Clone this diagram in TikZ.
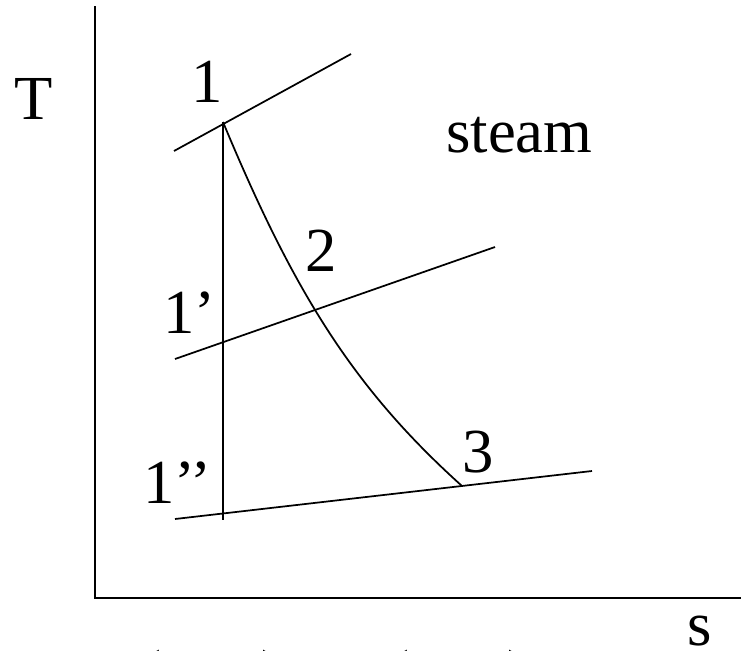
\documentclass[tikz,border=0pt]{standalone}
\usepackage{fontspec}
\setmainfont{Liberation Serif}
\usetikzlibrary{positioning}

\begin{document}
\begin{tikzpicture}[x=0.75pt, y=-0.75pt,
        axis/.style={line width=1.6pt},
        curve/.style={line width=1.3pt},
        lbl/.style={inner sep=0pt, font=\fontsize{47}{56}\selectfont}]
        \useasboundingbox (0,0) rectangle (741,650);
        \clip (0,0) rectangle (741,650);
        \coordinate (top) at (95,6);
        \coordinate (orig) at (95,598);
        \coordinate (right) at (741,598);
        \coordinate (pa) at (223,122);
        \coordinate (pb) at (314,308);
        \coordinate (pc) at (462,486);
        \coordinate (pd) at (223,341);
        \coordinate (pe) at (223,520);
        \coordinate (hiL) at (174,151);
        \coordinate (hiR) at (351,54);
        \coordinate (midL) at (175,359);
        \coordinate (midR) at (495,247);
        \coordinate (loL) at (175,519);
        \coordinate (loR) at (592,471);
        \node[lbl, anchor=base] (tlab) at (34,119) {T};
        \node[lbl, anchor=base] (slab) at (700,645) {s};
        \node[lbl, anchor=base] (one) at (207,102) {1};
        \node[lbl, anchor=base] (two) at (321,271) {2};
        \node[lbl, anchor=base] (three) at (478,472) {3};
        \node[lbl, anchor=base west] (onep) at (163,333) {1’};
        \node[lbl, anchor=base west] (onepp) at (143,503) {1’’};
        \node[lbl, anchor=base west] (steam) at (446,152) {steam};
        \node[lbl, anchor=base west] (dsa) at (140,693) {(s\textsubscript{1}\hspace{12pt}’’)};
        \node[lbl, anchor=base west] (dsb) at (388,693) {(s\textsubscript{1}\hspace{23pt}’)};
        \draw[axis] (top) -- (orig) -- (right);
        \draw[curve] (hiL) -- (hiR);
        \draw[curve] (midL) -- (midR);
        \draw[curve] (loL) -- (loR);
        \draw[curve] (pa) -- (pd) -- (pe);
        \draw[curve] (pa) .. controls (293,290) and (352,387) .. (pc);
    \end{tikzpicture}
\end{document}
